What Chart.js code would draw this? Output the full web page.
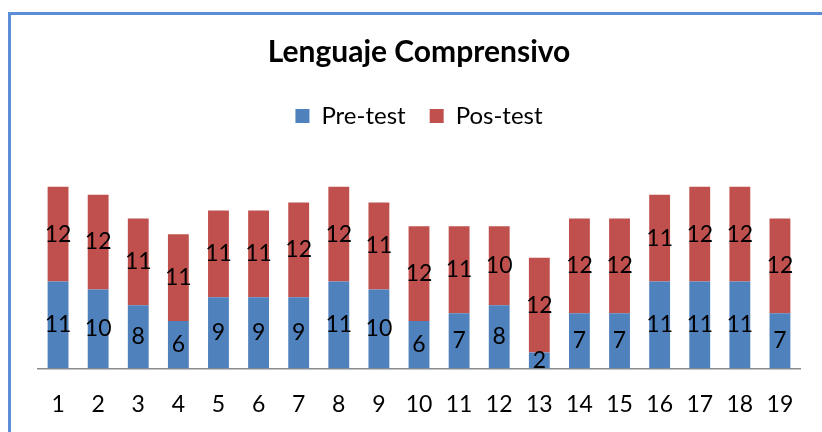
<!DOCTYPE html>
<html>
<head>
<meta charset="utf-8">
<script src="https://cdn.jsdelivr.net/npm/chart.js@4"></script>
<style>
  html, body { margin: 0; padding: 0; background: #fff; overflow: hidden; }
  #wrap { position: relative; width: 822px; height: 432px; overflow: hidden; }
  #frame { position: absolute; left: 8px; top: 12px; width: 900px; height: 500px; border: 3px solid #5B8ED6; box-sizing: border-box; pointer-events: none; }
  canvas { position: absolute; left: 0; top: 0; }
</style>
</head>
<body>
<div id="wrap">
  <canvas id="chart" width="822" height="432"></canvas>
  <div id="frame"></div>
</div>
<script>
const categories = ['1', '2', '3', '4', '5', '6', '7', '8', '9', '10', '11', '12', '13', '14', '15', '16', '17', '18', '19'];
const preTest = [11, 10, 8, 6, 9, 9, 9, 11, 10, 6, 7, 8, 2, 7, 7, 11, 11, 11, 7];
const posTest = [12, 12, 11, 11, 11, 11, 12, 12, 11, 12, 11, 10, 12, 12, 12, 11, 12, 12, 12];

const FONT = 'Lato, "Liberation Sans", sans-serif';

// draws the value in the middle of every stacked segment
const segmentLabels = {
  id: 'segmentLabels',
  afterDatasetsDraw(chart) {
    const ctx = chart.ctx;
    ctx.save();
    ctx.font = '23px ' + FONT;
    ctx.fillStyle = '#000';
    ctx.textAlign = 'center';
    ctx.textBaseline = 'middle';
    chart.data.datasets.forEach((ds, i) => {
      const meta = chart.getDatasetMeta(i);
      meta.data.forEach((bar, j) => {
        const { x, y, base } = bar.getProps(['x', 'y', 'base'], true);
        ctx.fillText(String(ds.data[j]), x, (y + base) / 2);
      });
    });
    ctx.restore();
  }
};

// leave extra room between the legend and the bars
const legendGap = {
  id: 'legendGap',
  beforeInit(chart) {
    const fit = chart.legend.fit;
    chart.legend.fit = function () {
      fit.call(this);
      this.height += 33;
    };
  }
};

new Chart(document.getElementById('chart'), {
  type: 'bar',
  data: {
    labels: categories,
    datasets: [
      { label: 'Pre-test', data: preTest, backgroundColor: '#4F81BD' },
      { label: 'Pos-test', data: posTest, backgroundColor: '#C0504D' }
    ]
  },
  options: {
    responsive: false,
    animation: false,
    layout: { padding: { left: 38, right: 22, top: 20, bottom: 0 } },
    datasets: { bar: { barPercentage: 0.52, categoryPercentage: 1 } },
    plugins: {
      title: {
        display: true,
        text: 'Lenguaje Comprensivo',
        color: '#000',
        font: { family: FONT, size: 30, weight: 'bold' },
        padding: { top: 14, bottom: 10 }
      },
      legend: {
        display: true,
        labels: {
          color: '#000',
          font: { family: FONT, size: 24 },
          boxWidth: 14,
          boxHeight: 14,
          padding: 24
        }
      },
      tooltip: { enabled: false }
    },
    scales: {
      x: {
        stacked: true,
        grid: { display: false },
        border: { display: true, color: '#8c8c8c', width: 1.5 },
        ticks: { color: '#000', font: { family: FONT, size: 23 }, padding: 14, maxRotation: 0, autoSkip: false }
      },
      y: {
        stacked: true,
        display: false,
        min: 0,
        max: 25
      }
    }
  },
  plugins: [segmentLabels, legendGap]
});
</script>
</body>
</html>
